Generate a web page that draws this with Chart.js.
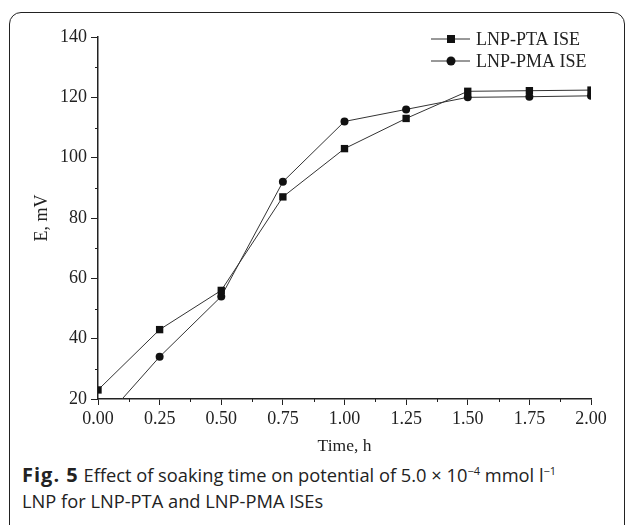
<!DOCTYPE html>
<html lang="en">
<head>
    <meta charset="UTF-8">
    <title>Effect of soaking time</title>
    <script src="https://cdn.jsdelivr.net/npm/chart.js"></script>
    <style>
        body {
            margin: 0;
            background: #fff;
            width: 629px;
            height: 525px;
            overflow: hidden;
            position: relative;
        }

        #frame {
            position: absolute;
            left: 9px;
            top: 12px;
            width: 614px;
            height: 530px;
            border: 1.5px solid #222;
            border-radius: 12px;
        }

        #wrap {
            position: absolute;
            left: 0;
            top: 0;
            width: 629px;
            height: 460px;
        }

        #caption {
            position: absolute;
            left: 22px;
            top: 462px;
            font-family: "Open Sans", sans-serif;
            font-size: 18.3px;
            line-height: 26px;
            color: #222;
        }

        #caption b { font-weight: 700; font-size: 20px; letter-spacing: 1px; }
        #caption sup { font-size: 11px; line-height: 0; vertical-align: 7px; }
    </style>
</head>
<body>
    <div id="frame"></div>
    <div id="wrap"><canvas id="chart" width="629" height="460"></canvas></div>
    <div id="caption"><b>Fig. 5</b> Effect of soaking time on potential of 5.0 × 10<sup>−4</sup> mmol l<sup>−1</sup><br>LNP for LNP-PTA and LNP-PMA ISEs</div>

    <script>
        // time in hours
        const times = [0, 0.25, 0.5, 0.75, 1.0, 1.25, 1.5, 1.75, 2.0];
        // potential, mV
        const ptaValues = [23, 43, 56, 87, 103, 113, 122, 122.2, 122.4];
        const pmaValues = [11, 34, 54, 92, 112, 116, 120, 120.2, 120.5];
        const seriesLabels = ['LNP-PTA ISE', 'LNP-PMA ISE'];

        const serif = "'Liberation Serif', 'Times New Roman', serif";
        const ink = '#222';

        // small legend drawn inside the plot: line - marker - line, then text
        const legendPlugin = {
            id: 'insideLegend',
            afterDatasetsDraw(chart) {
                const c = chart.ctx;
                const area = chart.chartArea;
                c.save();
                c.font = '18px ' + serif;
                c.textBaseline = 'middle';
                chart.data.datasets.forEach((ds, i) => {
                    const y = area.top + 2 + i * 22;
                    const x0 = 431, x1 = 470, xm = 451;
                    c.strokeStyle = ds.borderColor;
                    c.lineWidth = 1;
                    c.beginPath();
                    c.moveTo(x0, y);
                    c.lineTo(x1, y);
                    c.stroke();
                    c.fillStyle = ds.pointBackgroundColor;
                    c.beginPath();
                    if (ds.pointStyle === 'rect') {
                        c.rect(xm - 4, y - 4, 8, 8);
                    } else {
                        c.arc(xm, y, 4.5, 0, Math.PI * 2);
                    }
                    c.fill();
                    c.fillStyle = ink;
                    c.fillText(ds.label, 476, y + 1);
                });
                c.restore();
            }
        };

        // short minor ticks between the labelled ones
        const minorTicks = {
            id: 'minorTicks',
            afterDraw(chart) {
                const c = chart.ctx;
                const xs = chart.scales.x, ys = chart.scales.y;
                c.save();
                c.strokeStyle = ink;
                c.lineWidth = 1;
                c.beginPath();
                for (let v = 0.125; v < 2; v += 0.25) {
                    const px = Math.round(xs.getPixelForValue(v)) + 0.5;
                    c.moveTo(px, ys.bottom);
                    c.lineTo(px, ys.bottom + 3);
                }
                for (let v = 30; v < 140; v += 20) {
                    const py = Math.round(ys.getPixelForValue(v)) + 0.5;
                    c.moveTo(xs.left, py);
                    c.lineTo(xs.left - 3, py);
                }
                c.stroke();
                c.restore();
            }
        };

        const ctx = document.getElementById('chart').getContext('2d');
        new Chart(ctx, {
            type: 'line',
            data: {
                datasets: [{
                    label: seriesLabels[0],
                    data: times.map((t, i) => ({ x: t, y: ptaValues[i] })),
                    borderColor: '#333',
                    borderWidth: 1,
                    pointStyle: 'rect',
                    pointRadius: 5.2,
                    pointBackgroundColor: '#111',
                    pointBorderWidth: 0,
                    tension: 0
                }, {
                    label: seriesLabels[1],
                    data: times.map((t, i) => ({ x: t, y: pmaValues[i] })),
                    borderColor: '#333',
                    borderWidth: 1,
                    pointStyle: 'circle',
                    pointRadius: 4,
                    pointBackgroundColor: '#111',
                    pointBorderWidth: 0,
                    tension: 0
                }]
            },
            options: {
                responsive: false,
                animation: false,
                layout: { padding: { left: 0, right: 38, top: 37, bottom: 0 } },
                plugins: {
                    legend: { display: false },
                    tooltip: { enabled: false }
                },
                scales: {
                    x: {
                        type: 'linear',
                        min: 0,
                        max: 2,
                        afterFit(scale) { scale.height = 61; },
                        ticks: {
                            stepSize: 0.25,
                            color: ink,
                            padding: 3,
                            font: { family: serif, size: 18 },
                            callback: v => v.toFixed(2),
                            maxRotation: 0,
                            autoSkip: false
                        },
                        grid: { drawOnChartArea: false, tickLength: 6, color: ink, lineWidth: 1 },
                        border: { color: ink, width: 1.5 },
                        title: {
                            display: true,
                            text: 'Time, h',
                            color: ink,
                            font: { family: serif, size: 17.5 },
                            padding: { top: 0, bottom: 3 }
                        }
                    },
                    y: {
                        min: 20,
                        max: 140,
                        afterFit(scale) { scale.width = 98; },
                        ticks: {
                            stepSize: 20,
                            color: ink,
                            padding: 4,
                            font: { family: serif, size: 18 }
                        },
                        grid: { drawOnChartArea: false, tickLength: 7, color: ink, lineWidth: 1 },
                        border: { color: ink, width: 1.5 },
                        title: {
                            display: true,
                            text: 'E, mV',
                            color: ink,
                            font: { family: serif, size: 18 },
                            padding: { top: 31, bottom: 0 }
                        }
                    }
                }
            },
            plugins: [legendPlugin, minorTicks]
        });
    </script>
</body>
</html>
